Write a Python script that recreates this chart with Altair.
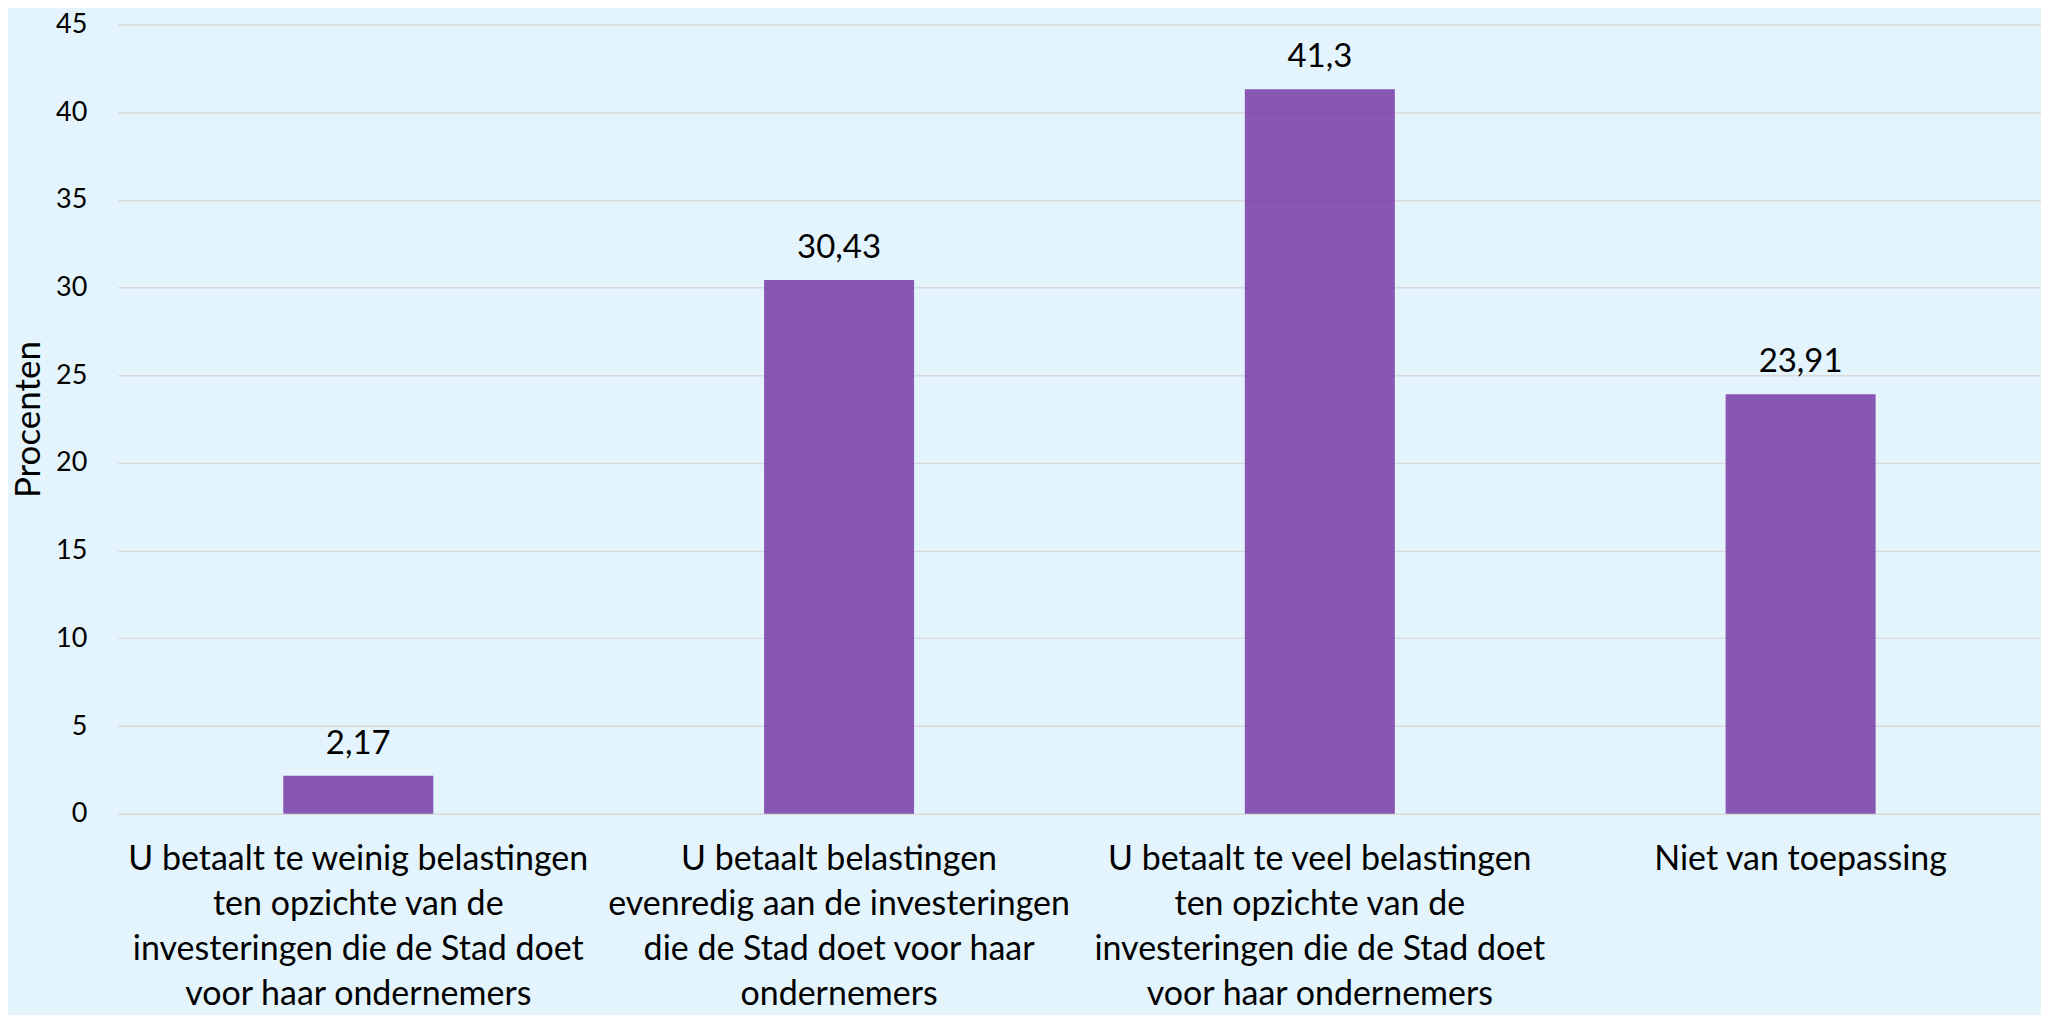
import altair as alt
import pandas as pd

categories = [
    "U betaalt te weinig belastingen\nten opzichte van de\ninvesteringen die de Stad doet\nvoor haar ondernemers",
    "U betaalt belastingen\nevenredig aan de investeringen\ndie de Stad doet voor haar\nondernemers",
    "U betaalt te veel belastingen\nten opzichte van de\ninvesteringen die de Stad doet\nvoor haar ondernemers",
    "Niet van toepassing",
]
values = [2.17, 30.43, 41.3, 23.91]
value_labels = ["2,17", "30,43", "41,3", "23,91"]
y_ticks = [0, 5, 10, 15, 20, 25, 30, 35, 40, 45]

df = pd.DataFrame({"cat": categories, "val": values, "lbl": value_labels})

FONT = "Lato"
W, H = 1925, 790

x = alt.X(
    "cat:N",
    sort=categories,
    title=None,
    scale=alt.Scale(paddingInner=0.688, paddingOuter=0.344),
    axis=alt.Axis(
        labelExpr="split(datum.label, '\\n')",
        labelAngle=0,
        labelFontSize=34,
        labelLineHeight=45,
        labelPadding=29,
        labelColor="#000000",
        labelFont=FONT,
        labelLimit=700,
        domain=False,
        ticks=False,
        grid=False,
        labelBaseline="top",
    ),
)

y = alt.Y(
    "val:Q",
    scale=alt.Scale(domain=[0, 45], nice=False, zero=True),
    axis=alt.Axis(
        values=y_ticks,
        title="Procenten",
        titleFontSize=35,
        titleFont=FONT,
        titleFontWeight="normal",
        titleColor="#000000",
        titleAngle=-90,
        titleX=-89,
        titleY=H / 2,
        titleAlign="center",
        titleBaseline="middle",
        labelFontSize=27,
        labelFont=FONT,
        labelColor="#000000",
        labelPadding=31,
        domain=False,
        ticks=False,
        grid=True,
        gridColor="#D9D9D9",
        gridWidth=1.5,
    ),
)

bars = alt.Chart(df).mark_bar(color="#7030A0", opacity=0.8).encode(x=x, y=y)

text = alt.Chart(df).mark_text(
    font=FONT, fontSize=33, color="#000000", baseline="alphabetic", dy=-22
).encode(x=alt.X("cat:N", sort=categories), y="val:Q", text="lbl:N")

chart = (
    alt.layer(bars, text)
    .properties(
        width=W,
        height=H,
        background="#E3F4FC",
        autosize=alt.AutoSizeParams(type="none"),
        padding={"left": 110, "top": 16, "right": 0, "bottom": 201},
    )
    .configure_view(stroke=None)
)

chart.save("out.html", embed_options={"renderer": "svg", "actions": False})
